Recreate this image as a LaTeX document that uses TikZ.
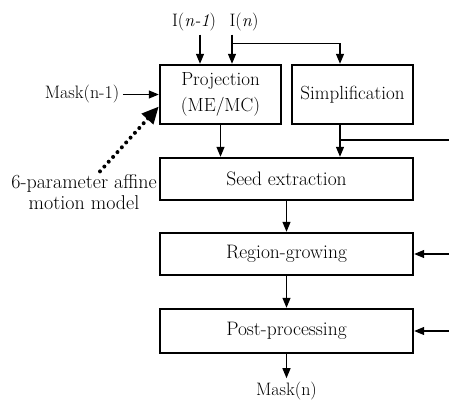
\documentclass[tikz,border=0pt]{standalone}
\usepackage{tikz}
\usetikzlibrary{positioning, arrows.meta, calc}
\tikzset{
  block/.style={rectangle, minimum width=253pt, minimum height=42pt, text centered, inner sep=2pt, draw=black, line width=2.4pt, font=\fontsize{19.5}{22}\selectfont},
  halfblock/.style={block, minimum width=121pt, minimum height=59pt, align=center, font=\fontsize{19}{26}\selectfont},
  arrow/.style={line width=1.2pt, -{Triangle[length=10pt, width=8pt]}},
  feed/.style={line width=1.2pt},
  dotarrow/.style={line width=4pt, line cap=round, dash pattern=on 0pt off 6.5pt, -{Triangle[length=17pt, width=15pt]}}
}
\begin{document}
\begin{tikzpicture}[x=1pt, y=-1pt, every node/.style={font=\fontsize{18}{21}\selectfont}]
        \useasboundingbox (0,0) rectangle (449,401);
        \coordinate (edge) at (449,0);

        \node (proj) [halfblock] at (220.5,94.5) {Projection\\(ME/MC)};
        \node (simp) [halfblock, right=8.6pt of proj] {Simplification};
        \node (seed) [block, below right=31.6pt and 0pt of proj.south west] {Seed extraction};
        \node (grow) [block, below=30.6pt of seed] {Region-growing};
        \node (post) [block, below=31.6pt of grow, minimum height=44pt] {Post-processing};
        \node (maskout) [below=24pt of post] {Mask(n)};
        \node (maskin) [left=36pt of proj] {Mask(n-1)};
        \node (inprev) at (194,22) {I(\textit{n-1})};
        \node (incur) at (244,22) {I(\textit{n})};
        \node (affine) [align=center, font=\fontsize{20}{21}\selectfont] at (84,192.5) {6-parameter affine\\motion model};

        % Entradas de la proyeccion
        \draw [arrow] ([xshift=6pt]inprev.south) -- ([xshift=-20.5pt]proj.north);
        \draw [arrow] ([xshift=-12pt]incur.south) -- ([xshift=11.5pt]proj.north);
        \coordinate (split) at ($([xshift=-12pt]incur.south)!0.3!([xshift=11.5pt]proj.north)$);
        \draw [arrow] (split) -| ([xshift=-12.5pt]simp.north);
        \draw [arrow] (maskin) -- (proj);
        \draw [dotarrow] ([xshift=16pt]affine.north) -- ([yshift=-12pt]proj.west);

        % Hacia la extraccion de semillas
        \draw [arrow] (proj.south) -- (proj.south |- seed.north);
        \draw [arrow] ([xshift=-12.5pt]simp.south) -- ([xshift=-12.5pt]simp.south |- seed.north);
        \coordinate (tap) at ($([xshift=-12.5pt]simp.south)!0.47!([xshift=-12.5pt]simp.south |- seed.north)$);
        \draw [feed] (tap) -- (tap -| edge);

        \draw [arrow] (seed) -- (grow);
        \draw [arrow] (grow) -- (post);
        \draw [arrow] (post) -- (maskout);

        % Entradas por la derecha
        \draw [arrow] (grow.east -| edge) -- (grow.east);
        \draw [arrow] (post.east -| edge) -- (post.east);
\end{tikzpicture}
\end{document}
